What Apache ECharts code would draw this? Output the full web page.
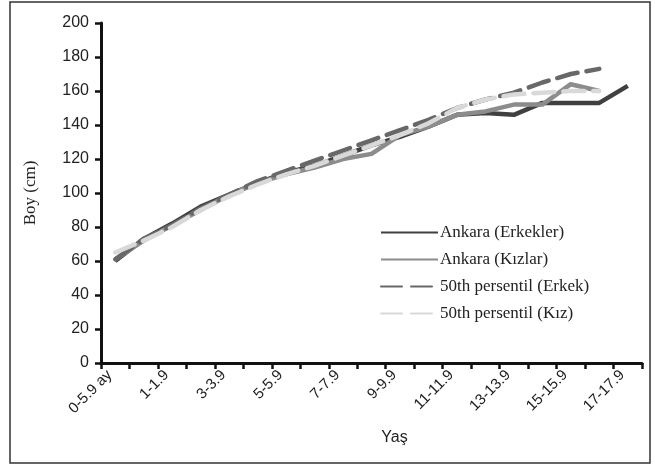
<!DOCTYPE html>
<html>
<head>
<meta charset="utf-8">
<script src="https://cdn.jsdelivr.net/npm/echarts@6/dist/echarts.min.js"></script>
<style>html,body{margin:0;padding:0;background:#fff}#c{width:655px;height:468px}</style>
</head>
<body>
<div id="c"></div>
<script>
const categories = ['0-5.9 ay','6-11.9 ay','1-1.9','2-2.9','3-3.9','4-4.9','5-5.9','6-6.9','7-7.9','8-8.9','9-9.9','10-10.9','11-11.9','12-12.9','13-13.9','14-14.9','15-15.9','16-16.9','17-17.9'];
const ankaraErkek = [60,73,82,92,99,106,112,116,122,128,133,139,146,147,146,153,153,153,163];
const ankaraKiz   = [61,72,81,90,99,106,111,115,120,123,134,139,146,148,152,152,164,160,null];
const p50Erkek    = [61,73,81,91,99,107,113,119,125,131,137,143,150,155,159,165,170,173,null];
const p50Kiz      = [65,72,80,90,98,105,111,116,122,128,134,141,150,155,158,159,160,160,null];
const yTicks = [0,20,40,60,80,100,120,140,160,180,200];

const chart = echarts.init(document.getElementById('c'), null, {renderer:'canvas'});
const narrow = '"Liberation Sans Narrow", "Liberation Sans", sans-serif';
const serif = '"Liberation Serif", "DejaVu Serif", serif';
function ser(name, data, color, dashed) {
  return {
    name, type:'line', data, symbol:'none', showSymbol:false, connectNulls:false,
    lineStyle:{color, width:4.5, type: dashed ? [21,9] : 'solid', cap: dashed ? 'round':'butt', join:'round'},
    itemStyle:{color}
  };
}
chart.setOption({
  animation:false,
  backgroundColor:'#fff',
  graphic:[{type:'rect', shape:{x:10, y:2, width:640, height:461}, style:{fill:'none', stroke:'#333', lineWidth:1.5}, silent:true}],
  grid:{left:101, right:13, top:23, bottom:105},
  legend:{
    orient:'vertical', left:375, top:219, itemGap:10, itemWidth:57, itemHeight:12,
    itemStyle:{opacity:0},
    textStyle:{fontFamily:serif, fontSize:17, color:'#222', padding:[0,0,0,-3]},
    data:['Ankara (Erkekler)','Ankara (Kızlar)','50th persentil (Erkek)','50th persentil (Kız)']
  },
  xAxis:{
    type:'category', data:categories, boundaryGap:true,
    name:'Yaş', nameLocation:'middle', nameGap:67,
    nameTextStyle:{fontFamily:narrow, fontSize:16, color:'#222', padding:[0,0,0,46]},
    axisLine:{lineStyle:{color:'#111', width:3}},
    axisTick:{show:true, length:6, interval:0, lineStyle:{color:'#111', width:2.5}},
    axisLabel:{interval:1, rotate:45, margin:4, padding:[0,8,16,0], fontFamily:narrow, fontSize:15, color:'#222'},
    splitLine:{show:false}
  },
  yAxis:{
    type:'value', min:0, max:200, interval:20,
    name:'Boy (cm)', nameLocation:'middle', nameGap:62,
    nameTextStyle:{fontFamily:serif, fontSize:17, color:'#222'},
    axisLine:{show:true, lineStyle:{color:'#111', width:3}},
    axisTick:{show:true, length:6, lineStyle:{color:'#111', width:2.5}},
    axisLabel:{margin:12, fontFamily:narrow, fontSize:16, color:'#222',
      formatter:(v)=> yTicks.includes(v) ? String(v) : ''},
    splitLine:{show:false}
  },
  series:[
    ser('Ankara (Erkekler)', ankaraErkek, '#404040', false),
    ser('Ankara (Kızlar)', ankaraKiz, '#8c8c8c', false),
    ser('50th persentil (Erkek)', p50Erkek, '#686868', true),
    ser('50th persentil (Kız)', p50Kiz, '#d9d9d9', true)
  ]
});
</script>
</body>
</html>
